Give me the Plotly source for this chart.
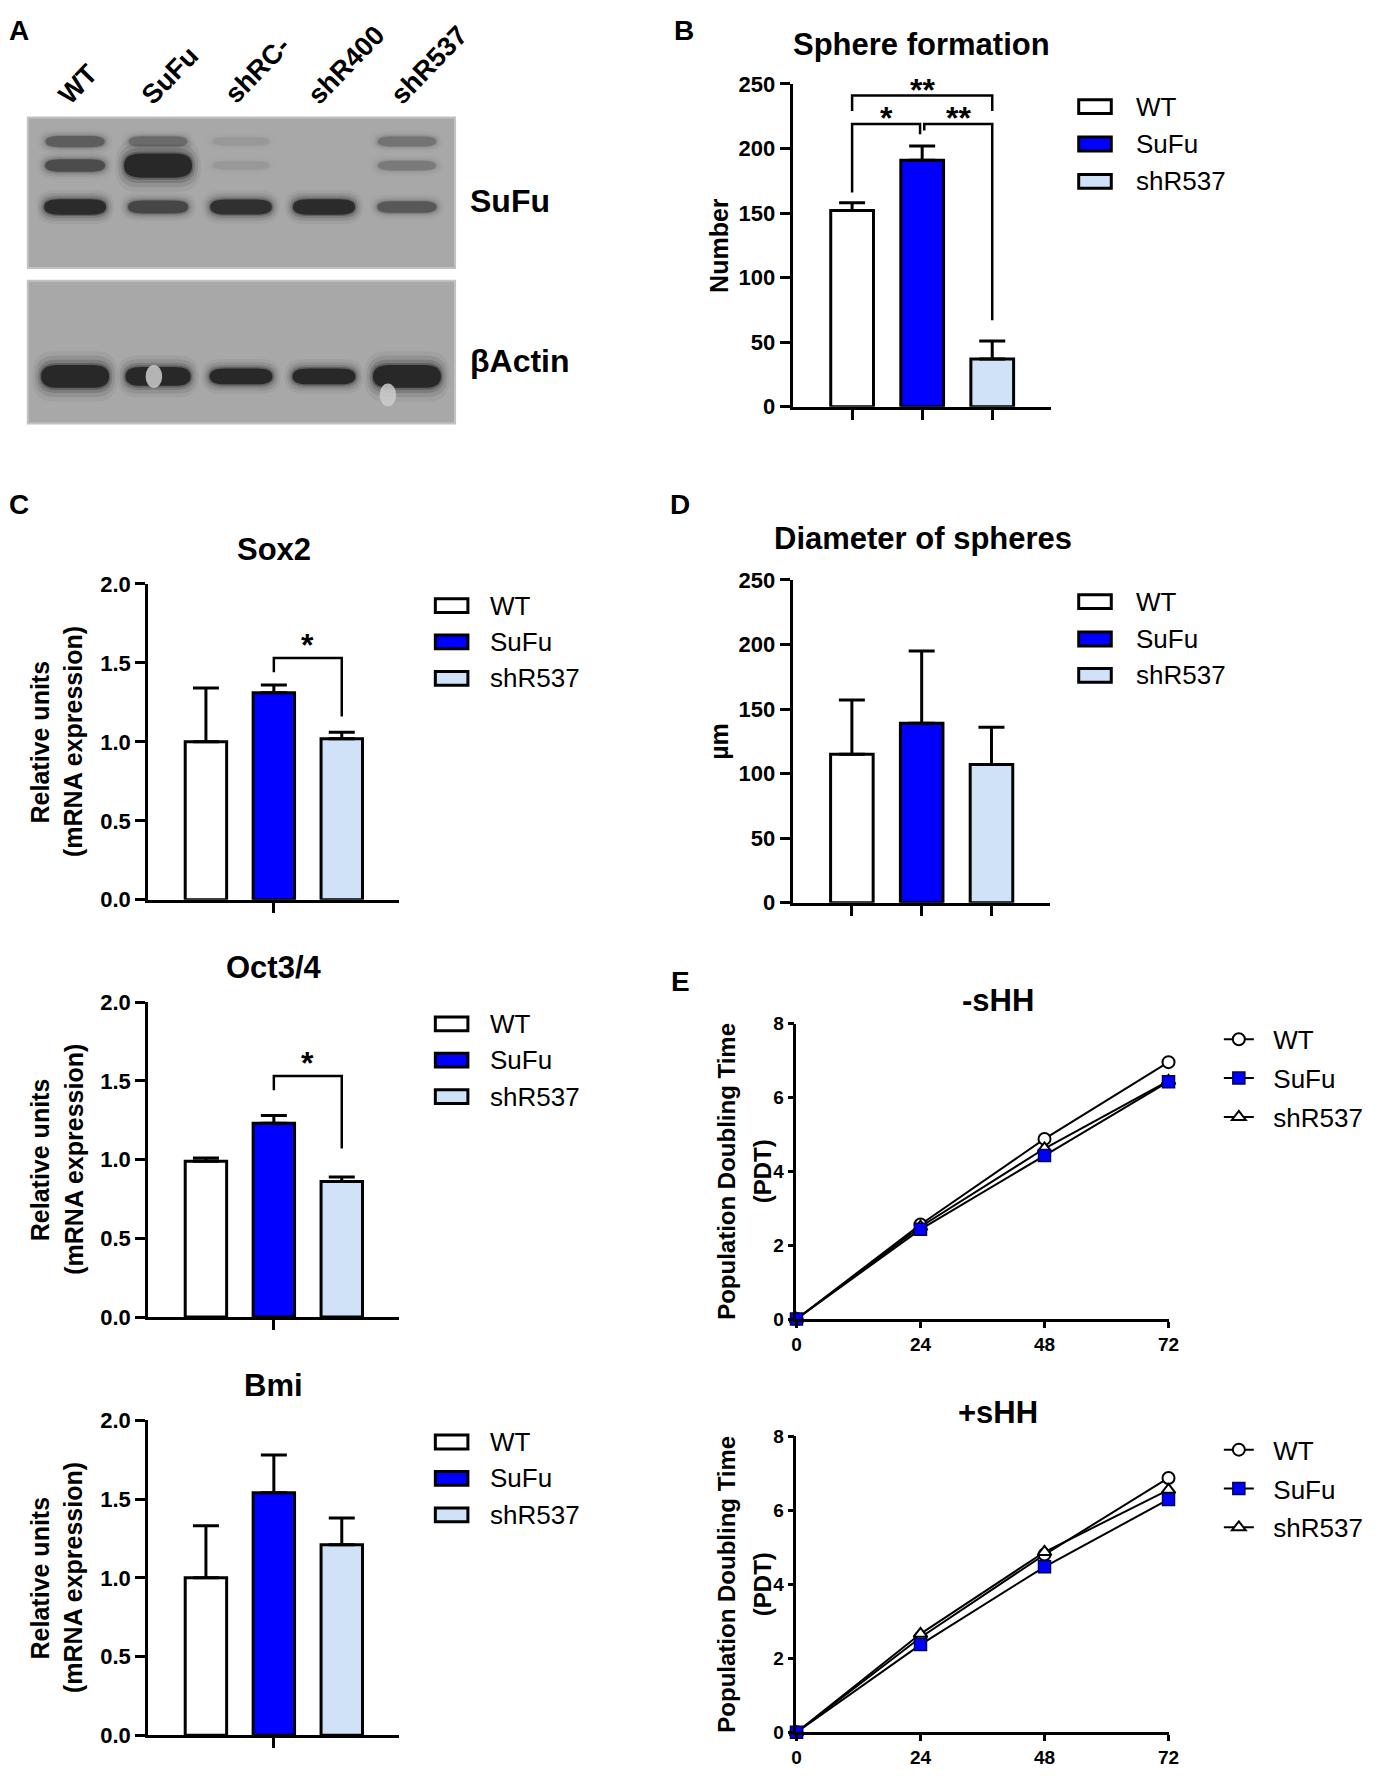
import plotly.graph_objects as go

# page is 1377x1776; the browser body keeps its default 8px margin,
# so the figure is made 16px smaller and every position below is given in page pixels
PAGE_W, PAGE_H = 1377, 1776
OFF = 8
W, H = PAGE_W - 2 * OFF, PAGE_H - 2 * OFF
FONT = 'Liberation Sans, Arial, Helvetica, sans-serif'

# ---------------- data ----------------
groups = ['WT', 'SuFu', 'shR537']
group_colors = ['#FFFFFF', '#0000FF', '#CFE2F8']

sphere_number = [152, 191, 37]
sphere_number_sd = [6, 11, 14]
sphere_diameter = [115, 139, 107]
sphere_diameter_sd = [42, 56, 29]

sox2 = [1.00, 1.31, 1.02]
sox2_sd = [0.34, 0.05, 0.04]
oct34 = [0.99, 1.23, 0.86]
oct34_sd = [0.02, 0.05, 0.03]
bmi = [1.00, 1.54, 1.21]
bmi_sd = [0.33, 0.24, 0.17]

# significance brackets: left, right, bar level, left leg end, right leg end, mark
sphere_brackets = [(0, 2, 241, 229, 229, '**'),
                   (0, 0.97, 219, 166, 211, '*'),
                   (1.03, 2, 219, 214, 67, '**')]
sox2_brackets = [(1, 2, 1.53, 1.44, 1.16, '*')]
oct34_brackets = [(1, 2, 1.53, 1.44, 1.07, '*')]

pdt_hours = [0, 24, 48, 72]
pdt_minus_wt = [0, 2.56, 4.88, 6.96]
pdt_minus_sufu = [0, 2.43, 4.43, 6.43]
pdt_minus_shr537 = [0, 2.50, 4.62, 6.45]
pdt_plus_wt = [0, 2.56, 4.80, 6.87]
pdt_plus_sufu = [0, 2.37, 4.47, 6.29]
pdt_plus_shr537 = [0, 2.66, 4.87, 6.55]

# western blot: band amount per lane (0 = no band)
blot_lanes = ['WT', 'SuFu', 'shRC-', 'shR400', 'shR537']
sufu_upper = [0.45, 0.35, 0.08, 0.0, 0.30]
sufu_middle = [0.60, 2.00, 0.08, 0.0, 0.25]
sufu_main = [0.95, 0.65, 0.90, 0.95, 0.50]
actin = [2.0, 1.5, 1.1, 1.1, 2.0]
sufu_rows = [0.16, 0.32, 0.595]   # migration (fraction of membrane height)
actin_row = 0.67


def px_x(v):
    return (v - OFF) / W


def px_y(v):
    return 1 - (v - OFF) / H


def dom_x(a, b):
    return [px_x(a), px_x(b)]


def dom_y(top, bottom):
    return [px_y(bottom), px_y(top)]


def refs(n):
    return ('x', 'y') if n == 1 else (f'x{n}', f'y{n}')


def axkeys(n):
    return ('xaxis', 'yaxis') if n == 1 else (f'xaxis{n}', f'yaxis{n}')


def text(x, y, s, size, bold=True, **kw):
    fig.add_annotation(x=px_x(x), y=px_y(y), xref='paper', yref='paper', text=s,
                       showarrow=False,
                       font=dict(family=FONT, size=size, color='black',
                                 weight='bold' if bold else 'normal'), **kw)


fig = go.Figure()
axes = {}

tick_font = dict(family=FONT, size=22, color='black', weight='bold')
axis_style = dict(showline=True, linecolor='black', linewidth=3, ticks='outside',
                  ticklen=10, tickwidth=3, tickcolor='black', showgrid=False,
                  zeroline=False, fixedrange=True)

# ---------------- A: western blot ----------------
for n, (ytop, ybot) in zip([1, 2], [(107, 260), (273, 418)]):
    xa, ya = refs(n)
    kx, ky = axkeys(n)
    axes[kx] = dict(domain=dom_x(23, 456), range=[-0.57, 4.58], visible=False, anchor=ya)
    axes[ky] = dict(domain=dom_y(ytop, ybot), range=[1, 0], visible=False, anchor=xa)
    fig.add_trace(go.Scatter(x=list(range(len(blot_lanes))), y=[0.5] * len(blot_lanes),
                             mode='markers', marker=dict(opacity=0), xaxis=xa, yaxis=ya,
                             showlegend=False, hoverinfo='skip'))
    fig.add_shape(type='rect', xref=f'{xa} domain', yref=f'{ya} domain', x0=0, x1=1, y0=0, y1=1,
                  fillcolor='#a8a8a8', line=dict(color='#c2c2c2', width=2), layer='below')


def band(xa, ya, lane, pos, amount):
    if amount <= 0:
        return
    w = 0.68 + 0.07 * min(amount, 2)
    t = 0.05 + 0.055 * amount
    op = min(amount, 1.0)
    layers = [(1.26, 2.2, '#6a6a6a', 0.12), (1.18, 1.8, '#4a4a4a', 0.16),
              (1.1, 1.45, '#333333', 0.22), (1.04, 1.18, '#222222', 0.32),
              (1.0, 1.0, '#111111', 0.7)]
    for scale_w, scale_t, col, alpha in layers:
        l, r = lane - w * scale_w / 2, lane + w * scale_w / 2
        top, bot = pos - t * scale_t / 2, pos + t * scale_t / 2
        rx, ry = w * scale_w * 0.25, (bot - top) / 2
        path = (f'M{l + rx},{top} L{r - rx},{top} Q{r},{top} {r},{top + ry} '
                f'Q{r},{bot} {r - rx},{bot} L{l + rx},{bot} Q{l},{bot} {l},{bot - ry} '
                f'Q{l},{top} {l + rx},{top} Z')
        fig.add_shape(type='path', path=path, xref=xa, yref=ya, fillcolor=col,
                      opacity=alpha * op, line_width=0)


for row, amounts in zip(sufu_rows, [sufu_upper, sufu_middle, sufu_main]):
    for i, a in enumerate(amounts):
        band('x', 'y', i, row, a)
for i, a in enumerate(actin):
    band('x2', 'y2', i, actin_row, a)
# light spots on the actin film
for lane, pos in [(0.95, 0.67), (3.77, 0.80)]:
    fig.add_shape(type='circle', xref='x2', yref='y2', x0=lane - 0.1, x1=lane + 0.1,
                  y0=pos - 0.08, y1=pos + 0.08, fillcolor='#cdcdcd', opacity=0.85, line_width=0)

for i, name in enumerate(blot_lanes):
    fig.add_annotation(x=i - 0.3, y=px_y(102), xref='x', yref='paper', text=name,
                       textangle=-46, xanchor='left', yanchor='bottom', showarrow=False,
                       font=dict(family=FONT, size=27, color='black', weight='bold'))
text(469, 192, 'SuFu', 32, xanchor='left', yanchor='middle')
text(469, 355, 'βActin', 32, xanchor='left', yanchor='middle')


# ---------------- bar panels ----------------
def bar_panel(n, values, sd, xpx, ypx, ymax, dtick, fmt, xticks, brackets, mark_shift):
    xa, ya = refs(n)
    kx, ky = axkeys(n)
    fig.add_trace(go.Bar(x=list(range(len(groups))), y=values, width=0.61,
                         marker=dict(color=group_colors, line=dict(color='black', width=3)),
                         error_y=dict(type='data', symmetric=False, array=sd,
                                      arrayminus=[0] * len(sd), color='black',
                                      thickness=3, width=13),
                         xaxis=xa, yaxis=ya, showlegend=False, hoverinfo='skip'))
    for left, right, top, lend, rend, mark in brackets:
        fig.add_trace(go.Scatter(x=[left, left, right, right], y=[lend, top, top, rend],
                                 mode='lines', line=dict(color='black', width=2.5),
                                 xaxis=xa, yaxis=ya, showlegend=False, hoverinfo='skip'))
        fig.add_annotation(x=(left + right) / 2, y=top, xref=xa, yref=ya, text=mark,
                           showarrow=False, yanchor='middle', yshift=mark_shift,
                           font=dict(family=FONT, size=32, color='black', weight='bold'))
    axes[kx] = dict(axis_style, domain=dom_x(*xpx), range=[-0.85, 2.84], anchor=ya,
                    tickvals=xticks, showticklabels=False)
    axes[ky] = dict(axis_style, domain=dom_y(*ypx), range=[0, ymax], anchor=xa,
                    dtick=dtick, tick0=0, tickformat=fmt, tickfont=tick_font)


def bar_legend(rows, bx0, bx1, tx):
    for name, color, row in zip(groups, group_colors, rows):
        fig.add_shape(type='rect', xref='paper', yref='paper', x0=px_x(bx0), x1=px_x(bx1),
                      y0=px_y(row + 7), y1=px_y(row - 7), fillcolor=color,
                      line=dict(color='black', width=3))
        text(tx, row, name, 26, bold=False, xanchor='left', yanchor='middle')


# B
bar_panel(3, sphere_number, sphere_number_sd, (798, 1060), (73, 401), 250, 50, 'd',
          [0, 1, 2], sphere_brackets, 6)
bar_legend([96, 134, 172], 1088, 1121, 1144)
text(929, 33, 'Sphere formation', 31, xanchor='center', yanchor='middle')
text(724, 237, 'Number', 25, textangle=-90, xanchor='center', yanchor='middle')

# C
c_panels = [(4, sox2, sox2_sd, (581, 902), sox2_brackets, 'Sox2'),
            (5, oct34, oct34_sd, (1006, 1326), oct34_brackets, 'Oct3/4'),
            (6, bmi, bmi_sd, (1431, 1751), [], 'Bmi')]
for n, vals, sd, ypx, br, title in c_panels:
    bar_panel(n, vals, sd, (145, 399), ypx, 2.0, 0.5, '.1f', [1], br, 13)
    top = ypx[0]
    mid = (ypx[0] + ypx[1]) / 2
    bar_legend([top + 22, top + 59, top + 96], 436, 469, 489)
    text(272, top - 35, title, 31, xanchor='center', yanchor='middle')
    text(35, mid, 'Relative units', 25, textangle=-90, xanchor='center', yanchor='middle')
    text(69, mid, '(mRNA expression)', 25, textangle=-90, xanchor='center', yanchor='middle')

# D
bar_panel(7, sphere_diameter, sphere_diameter_sd, (798, 1059), (577, 905), 250, 50, 'd',
          [0, 1, 2], [], 0)
bar_legend([599, 637, 674], 1088, 1121, 1144)
text(930, 535, 'Diameter of spheres', 31, xanchor='center', yanchor='middle')
text(724, 741, 'µm', 25, textangle=-90, xanchor='center', yanchor='middle')


# ---------------- E: population doubling time ----------------
def pdt_panel(n, ypx, wt, sufu, shr, legend_name, title):
    xa, ya = refs(n)
    kx, ky = axkeys(n)
    series = [
        ('WT', wt, dict(symbol='circle', color='white', line=dict(color='black', width=2)), 1),
        ('shR537', shr, dict(symbol='triangle-up', color='white', line=dict(color='black', width=2)), 3),
        ('SuFu', sufu, dict(symbol='square', color='#0000FF', line=dict(color='#000055', width=1.5)), 2),
    ]
    for name, vals, marker, rank in series:
        fig.add_trace(go.Scatter(x=pdt_hours, y=vals, name='\u00a0\u00a0' + name,
                                 mode='lines+markers',
                                 line=dict(color='black', width=2), marker=dict(size=12, **marker),
                                 xaxis=xa, yaxis=ya, legend=legend_name, legendrank=rank,
                                 legendgroup=f'{legend_name}_{name}', cliponaxis=False,
                                 hoverinfo='skip'))
    e_style = dict(axis_style, linewidth=2.5, ticklen=6, tickwidth=2.5,
                   tickfont=dict(family=FONT, size=19, color='black', weight='bold'))
    axes[kx] = dict(e_style, domain=dom_x(802, 1179), range=[0, 72], anchor=ya,
                    tickvals=pdt_hours)
    axes[ky] = dict(e_style, domain=dom_y(*ypx), range=[0, 8], anchor=xa, dtick=2)
    mid = (ypx[0] + ypx[1]) / 2
    text(1006, ypx[0] - 24, title, 31, xanchor='center', yanchor='middle')
    text(731, mid, 'Population Doubling Time', 24, textangle=-90, xanchor='center', yanchor='middle')
    text(767, mid, '(PDT)', 24, textangle=-90, xanchor='center', yanchor='middle')


pdt_panel(8, (1028, 1328), pdt_minus_wt, pdt_minus_sufu, pdt_minus_shr537, 'legend', '-sHH')
pdt_panel(9, (1447, 1748), pdt_plus_wt, pdt_plus_sufu, pdt_plus_shr537, 'legend2', '+sHH')

legend_style = dict(xanchor='left', yanchor='top', bgcolor='rgba(0,0,0,0)',
                    font=dict(family=FONT, size=26, color='black'),
                    traceorder='grouped', tracegroupgap=2, itemwidth=30)

# panel letters
for letter, (x, y) in zip('ABCDE', [(14, 19), (688, 19), (14, 500), (684, 500), (684, 985)]):
    text(x, y, letter, 28, xanchor='center', yanchor='middle')

fig.update_layout(
    width=W, height=H,
    margin=dict(l=0, r=0, t=0, b=0),
    paper_bgcolor='white', plot_bgcolor='white',
    font=dict(family=FONT, color='black'),
    showlegend=True,
    legend=dict(legend_style, x=px_x(1230), y=px_y(1020)),
    legend2=dict(legend_style, x=px_x(1230), y=px_y(1437)),
    **axes,
)

fig.write_html("out.html", config={'displayModeBar': False})
